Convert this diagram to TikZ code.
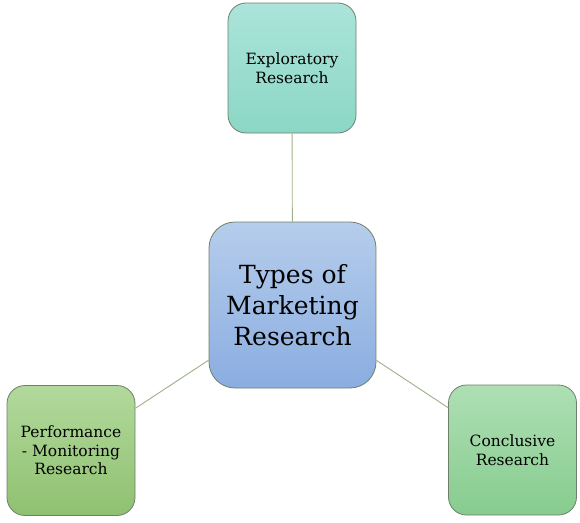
\documentclass[tikz,border=0pt]{standalone}
\usepackage{fontspec}
\setmainfont{DejaVu Serif}
\definecolor{exploreTop}{HTML}{ABE4DA}
\definecolor{exploreBot}{HTML}{8BD7C6}
\definecolor{typesTop}{HTML}{B6CDEC}
\definecolor{typesBot}{HTML}{8AADE0}
\definecolor{perfTop}{HTML}{B2D99C}
\definecolor{perfBot}{HTML}{8FC171}
\definecolor{conclTop}{HTML}{AEDFB4}
\definecolor{conclBot}{HTML}{87CC8E}
\definecolor{edgeline}{HTML}{6F7F6A}
\definecolor{linkline}{HTML}{9DB089}
\tikzset{
    typebox/.style={draw=edgeline, line width=0.8pt, rounded corners=18pt,
        minimum width=128pt, minimum height=130pt, align=center, inner sep=1pt,
        font=\fontsize{15.5}{18.5}\selectfont, text=black},
    mainbox/.style={typebox, rounded corners=26pt,
        minimum width=167pt, minimum height=166pt,
        font=\fontsize{25}{31}\selectfont},
    link/.style={draw=linkline, line width=0.9pt}
}
\begin{document}
\begin{tikzpicture}[x=1pt, y=-1pt]
            \useasboundingbox (0,0) rectangle (580,522);

            \node[mainbox, top color=typesTop, bottom color=typesBot] (types) at (292.5,305) {Types of\\Marketing\\Research};
            \node[typebox, top color=exploreTop, bottom color=exploreBot] (explore) at (292,68) {Exploratory\\Research};
            \node[typebox, top color=perfTop, bottom color=perfBot] (perf) at (71,450.5) {Performance\\- Monitoring\\Research};
            \node[typebox, top color=conclTop, bottom color=conclBot] (concl) at (512.5,450) {Conclusive\\Research};

            \draw[link] (types) -- (explore);
            \draw[link] (types) -- (perf);
            \draw[link] (types) -- (concl);
        \end{tikzpicture}
\end{document}
